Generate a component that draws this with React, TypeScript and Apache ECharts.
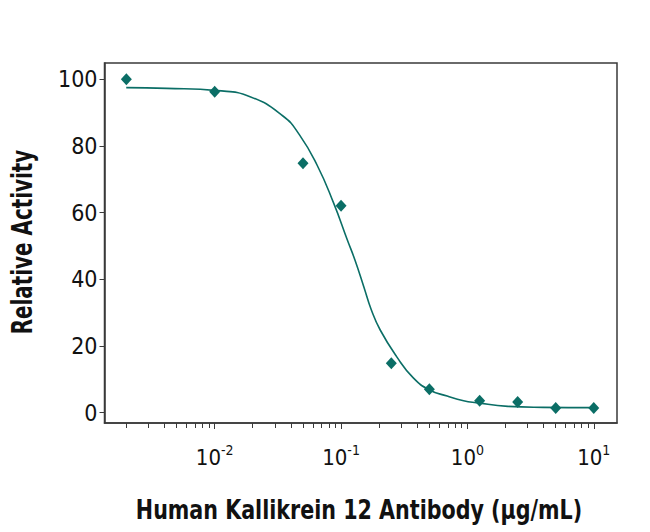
import React, { useEffect, useRef } from "react";
import * as echarts from "echarts";

// Measured data points (concentration in µg/mL, relative activity)
const doses = [0.002, 0.01, 0.05, 0.1, 0.25, 0.5, 1.25, 2.5, 5, 10];
const activity = [100, 96.3, 74.8, 62.1, 14.8, 7.0, 3.6, 3.2, 1.4, 1.4];

// Fitted curve (log10 of concentration, activity)
const fitLogDose = [-2.7, -2.38, -1.98, -1.72, -1.46, -1.33, -1.19, -1.06, -0.95, -0.89, -0.82, -0.76, -0.69, -0.56, -0.43, -0.3, -0.16, -0.03, 0.07, 0.32, 0.6, 1.0];
const fitActivity = [97.5, 97.3, 96.6, 94.8, 89.0, 83.4, 74.3, 63.0, 51.8, 45.8, 37.8, 30.8, 24.8, 16.8, 10.5, 6.8, 5.0, 3.6, 3.0, 1.9, 1.6, 1.5];

// Axis tick values
const xMajorExps = [-2, -1, 0, 1];
const xMinorMultipliers = [2, 3, 4, 5, 6, 7, 8, 9];
const xMinorDecades = [-3, -2, -1, 0, 1];
const yTicks = [0, 20, 40, 60, 80, 100];

const X_MIN = -2.872;
const X_MAX = 1.184;
const Y_MIN = -3.1;
const Y_MAX = 104.9;

const xTitle = "Human Kallikrein 12 Antibody (\u03bcg/mL)";
const yTitle = "Relative Activity";

const FONT = "'Liberation Sans Narrow', 'DejaVu Sans Condensed', 'Arial Narrow', sans-serif";
const TEAL = "#0b6e66";
const FRAME = "#3a3a3a";

export default function App() {
  const ref = useRef<HTMLDivElement>(null);

  useEffect(() => {
    if (!ref.current) return;
    const chart = echarts.init(ref.current, undefined, { renderer: "svg" });

    const minorTicks: number[] = [];
    xMinorDecades.forEach((d) => {
      xMinorMultipliers.forEach((m) => {
        const v = d + Math.log10(m);
        if (v > X_MIN && v < X_MAX) minorTicks.push(v);
      });
    });

    const points = doses.map((d, i) => [Math.log10(d), activity[i]]);
    const curve = fitLogDose.map((x, i) => [x, fitActivity[i]]);

    chart.setOption({
      animation: false,
      backgroundColor: "#ffffff",
      grid: {
        left: 104.5,
        right: 33,
        top: 63,
        bottom: 109,
        show: true,
        borderColor: FRAME,
        borderWidth: 1.5,
        backgroundColor: "transparent",
      },
      graphic: [
        {
          type: "text",
          x: 359,
          y: 510,
          scaleX: 0.883,
          style: {
            text: xTitle,
            x: 0,
            y: 0,
            textAlign: "center",
            textVerticalAlign: "middle",
            verticalAlign: "middle",
            fontFamily: FONT,
            fontSize: 26,
            fontWeight: "bold",
            fill: "#111",
          },
        },
        {
          type: "text",
          x: 23,
          y: 242,
          rotation: Math.PI / 2,
          scaleX: 0.79,
          style: {
            text: yTitle,
            x: 0,
            y: 0,
            textAlign: "center",
            textVerticalAlign: "middle",
            verticalAlign: "middle",
            fontFamily: FONT,
            fontSize: 28,
            fontWeight: "bold",
            fill: "#111",
          },
        },
      ],
      xAxis: [
        {
          type: "value",
          position: "bottom",
          min: X_MIN,
          max: X_MAX,
          splitLine: { show: false },
          axisLine: { show: true, onZero: false, lineStyle: { color: FRAME, width: 1.5 } },
          axisTick: {
            show: true,
            inside: false,
            length: 6,
            customValues: xMajorExps,
            lineStyle: { color: FRAME, width: 1 },
          },
          axisLabel: {
            show: true,
            customValues: xMajorExps,
            margin: 20,
            formatter: (v: number) => `{b|10}{s|${Math.round(v)}}`,
            rich: {
              b: { fontFamily: FONT, fontSize: 22, color: "#111" },
              s: { fontFamily: FONT, fontSize: 14, color: "#111", padding: [0, 0, 14, 0] },
            },
          },
        },
        {
          type: "value",
          position: "bottom",
          min: X_MIN,
          max: X_MAX,
          splitLine: { show: false },
          axisLine: { show: false, onZero: false },
          axisTick: {
            show: true,
            inside: false,
            length: 5,
            customValues: minorTicks,
            lineStyle: { color: FRAME, width: 1 },
          },
          axisLabel: { show: false },
        },
      ],
      yAxis: {
        type: "value",
        min: Y_MIN,
        max: Y_MAX,
        splitLine: { show: false },
        axisLine: { show: true, onZero: false, lineStyle: { color: FRAME, width: 1.5 } },
        axisTick: {
          show: true,
          inside: false,
          length: 5,
          customValues: yTicks,
          lineStyle: { color: FRAME, width: 1 },
        },
        axisLabel: {
          show: true,
          customValues: yTicks,
          margin: 7,
          fontFamily: FONT,
          fontSize: 23,
          color: "#111",
        },
      },
      series: [
        {
          type: "line",
          data: curve,
          smooth: 0.5,
          showSymbol: false,
          symbol: "none",
          lineStyle: { color: TEAL, width: 1.6 },
          z: 2,
        },
        {
          type: "scatter",
          data: points,
          symbol: "diamond",
          symbolSize: [11, 12],
          itemStyle: { color: TEAL, opacity: 1 },
          z: 3,
        },
      ],
    });

    return () => chart.dispose();
  }, []);

  return (
    <div
      ref={ref}
      style={{ position: "fixed", left: 0, top: 0, width: 650, height: 532, background: "#fff" }}
    />
  );
}
